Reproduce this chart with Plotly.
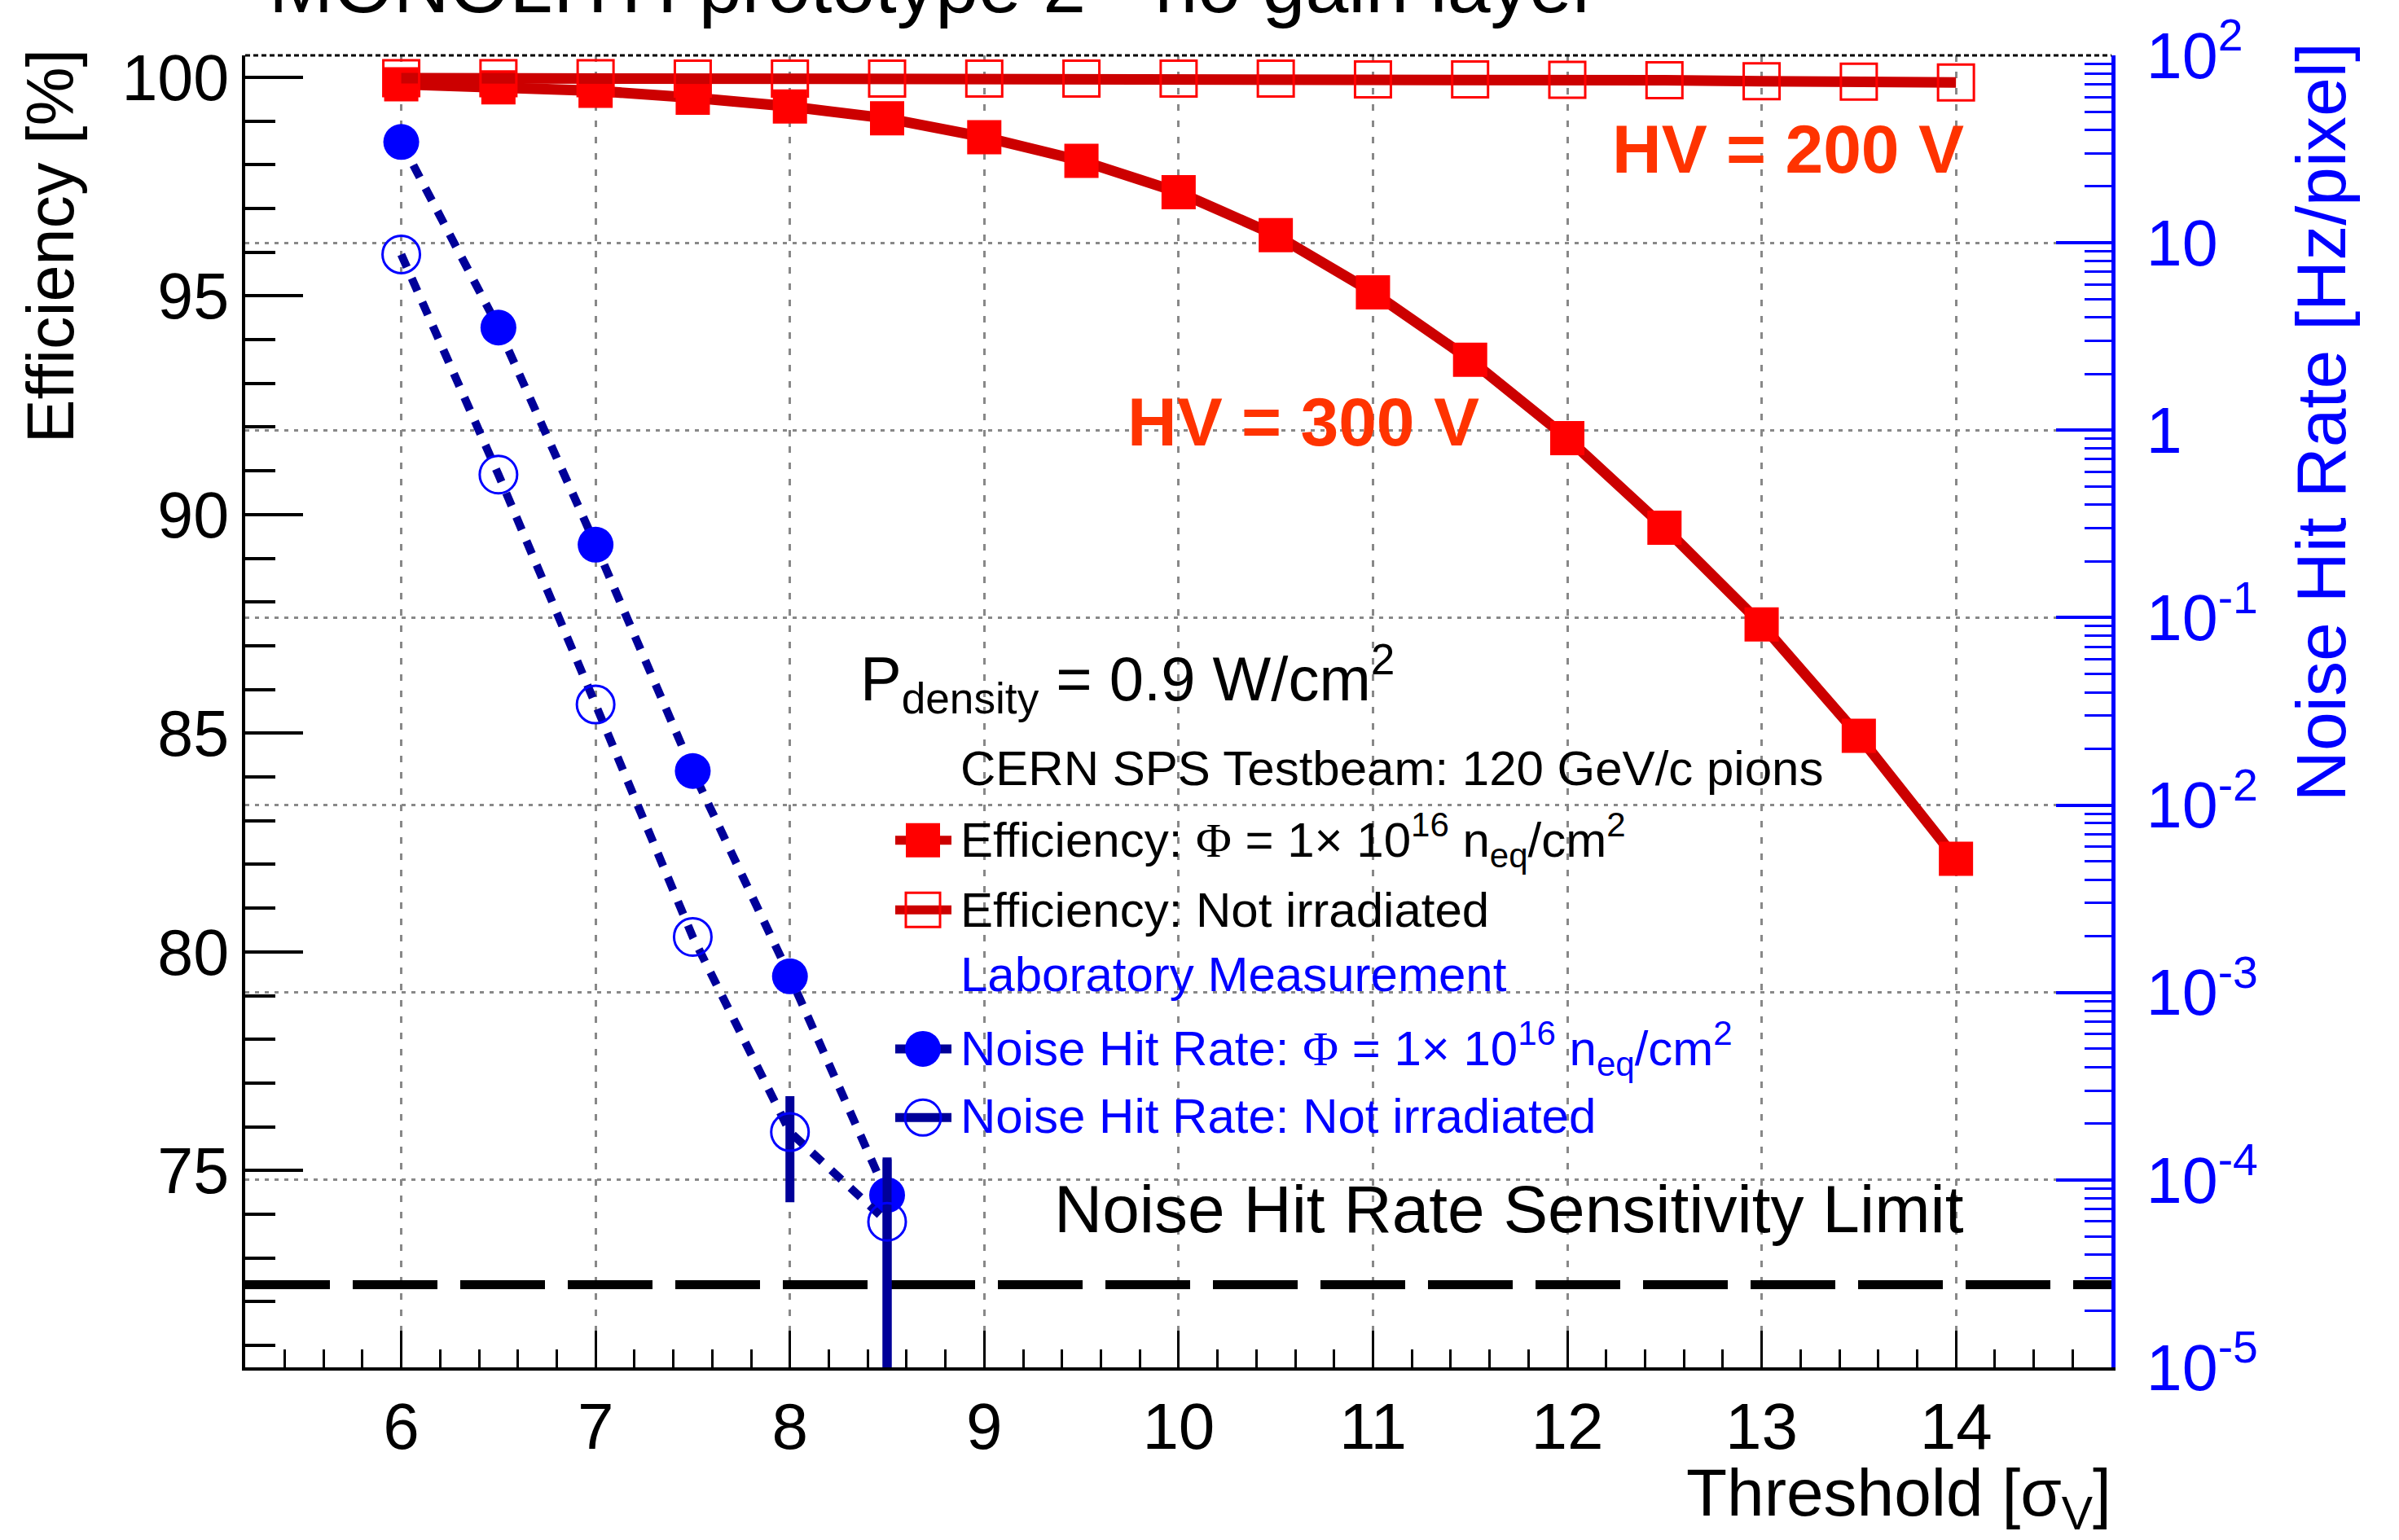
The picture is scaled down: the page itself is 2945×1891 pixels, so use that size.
import plotly.graph_objects as go

# ---------------- data ----------------
THRESH = [6.0, 6.5, 7.0, 7.5, 8.0, 8.5, 9.0, 9.5, 10.0, 10.5, 11.0, 11.5, 12.0, 12.5, 13.0, 13.5, 14.0]
EFF_IRR = [99.84, 99.77, 99.69, 99.53, 99.33, 99.06, 98.63, 98.09, 97.37, 96.39,
           95.08, 93.54, 91.75, 89.70, 87.49, 84.94, 82.13]
EFF_NON = [99.98, 99.98, 99.98, 99.97, 99.97, 99.97, 99.97, 99.97, 99.97, 99.97,
           99.95, 99.95, 99.94, 99.93, 99.91, 99.90, 99.88]

NOISE_X = [6.0, 6.5, 7.0, 7.5, 8.0, 8.5]
NOISE_IRR = [34.5, 3.53, 0.245, 0.0152, 1.22e-3, 8.3e-5]
NOISE_IRR_ERR_UP = [0, 0, 0, 0, 0, 4.6e-5]
NOISE_IRR_ERR_DN = [0, 0, 0, 0, 0, 8.3e-5]
NOISE_NON = [8.67, 0.58, 0.0344, 1.98e-3, 1.80e-4, 5.98e-5]
NOISE_NON_ERR_UP = [0, 0, 0, 0, 1.0e-4, 7.2e-5]
NOISE_NON_ERR_DN = [0, 0, 0, 0, 1.04e-4, 5.98e-5]

SENS_LIMIT = 2.76e-5

X_RANGE = [5.197, 14.80]
Y1_RANGE = [70.5, 100.5]
Y2_RANGE_LOG = [-5, 2]

X_TICKS = [6, 7, 8, 9, 10, 11, 12, 13, 14]
Y2_TICKVALS = [1e-5, 1e-4, 1e-3, 1e-2, 1e-1, 1, 10, 100]
Y2_TICKTEXT = ["10<sup>-5</sup>", "10<sup>-4</sup>", "10<sup>-3</sup>", "10<sup>-2</sup>",
               "10<sup>-1</sup>", "1", "10", "10<sup>2</sup>"]
Y2_MINOR = [m * 10.0 ** e for e in range(-5, 2) for m in range(2, 10)]

# ---------------- layout geometry (pixels) ----------------
W, H = 2945, 1891
L, R, T, B = 301, 2592, 56, 1679
FONT = "Liberation Sans"
RED_LINE = "#CC0000"
RED_MK = "#FF0000"
BLUE_LINE = "#000099"
BLUE_MK = "#0000FF"
HV_COL = "#FF3300"


def px(X):
    return (X - L) / (R - L)


def py(Y):
    return (B - Y) / (B - T)


fig = go.Figure()

fig.add_trace(go.Scatter(
    x=THRESH, y=EFF_IRR, mode="lines+markers", yaxis="y",
    line=dict(color=RED_LINE, width=13),
    marker=dict(symbol="square", size=42, color=RED_MK, line=dict(width=0)),
    showlegend=False))
fig.add_trace(go.Scatter(
    x=THRESH, y=EFF_NON, mode="lines+markers", yaxis="y",
    line=dict(color=RED_LINE, width=13),
    marker=dict(symbol="square-open", size=44, color=RED_MK, line=dict(width=3, color=RED_MK)),
    showlegend=False))

fig.add_trace(go.Scatter(
    x=X_RANGE, y=[SENS_LIMIT, SENS_LIMIT], mode="lines", yaxis="y2",
    line=dict(color="black", width=11, dash="104px,28px"), showlegend=False))

fig.add_trace(go.Scatter(
    x=NOISE_X, y=NOISE_IRR, mode="lines+markers", yaxis="y2",
    line=dict(color=BLUE_LINE, width=10, dash="17px,15px"),
    marker=dict(symbol="circle", size=44, color=BLUE_MK, line=dict(width=0)),
    error_y=dict(type="data", array=NOISE_IRR_ERR_UP, arrayminus=NOISE_IRR_ERR_DN,
                 color=BLUE_LINE, thickness=11, width=0),
    showlegend=False))
fig.add_trace(go.Scatter(
    x=NOISE_X, y=NOISE_NON, mode="lines+markers", yaxis="y2",
    line=dict(color=BLUE_LINE, width=10, dash="17px,15px"),
    marker=dict(symbol="circle-open", size=46, color=BLUE_MK, line=dict(width=3, color=BLUE_MK)),
    error_y=dict(type="data", array=NOISE_NON_ERR_UP, arrayminus=NOISE_NON_ERR_DN,
                 color=BLUE_LINE, thickness=11, width=0),
    showlegend=False))

# ---------------- annotations ----------------
ann = []


def text(x, y, s, size, color="black", xanchor="left", yanchor="middle", angle=0):
    ann.append(dict(x=px(x), y=py(y), xref="paper", yref="paper", text=s, showarrow=False,
                    xanchor=xanchor, yanchor=yanchor, textangle=angle,
                    font=dict(family=FONT, size=size, color=color)))


PHI = '<span style="font-family:Liberation Serif">Φ</span>'

text(1146, -31, "MONOLITH prototype 2 - no gain layer", 95, xanchor="center")
text(1977, 172, "<b>HV = 200 V</b>", 84, HV_COL)
text(1382, 509, "<b>HV = 300 V</b>", 84, HV_COL)
text(1054, 827, "P<sub>density</sub> = 0.9 W/cm<sup>2</sup>", 76)
text(1177, 938, "CERN SPS Testbeam: 120 GeV/c pions", 60)
text(1177, 1027, "Efficiency: " + PHI + " = 1× 10<sup>16</sup> n<sub>eq</sub>/cm<sup>2</sup>", 60)
text(1177, 1113, "Efficiency: Not irradiated", 60)
text(1177, 1193, "Laboratory Measurement", 60, BLUE_MK)
text(1177, 1285, "Noise Hit Rate: " + PHI + " = 1× 10<sup>16</sup> n<sub>eq</sub>/cm<sup>2</sup>", 60, BLUE_MK)
text(1177, 1368, "Noise Hit Rate: Not irradiated", 60, BLUE_MK)
text(2413, 1483, "Noise Hit Rate Sensitivity Limit", 82, xanchor="right")
text(2594, 1840, "Threshold [σ<sub>V</sub>]", 82, xanchor="right")
text(62, 46, "Efficiency [%]", 81, xanchor="center", yanchor="top", angle=-90)
text(2849, 38, "Noise Hit Rate [Hz/pixel]", 86, BLUE_MK, xanchor="center", yanchor="top", angle=-90)

# ---------------- shapes (frame top + legend keys) ----------------
shapes = [dict(type="line", xref="paper", yref="paper", x0=0, x1=1, y0=1, y1=1,
               line=dict(color="black", width=3, dash="6px,4px"))]

LEG_X0, LEG_X1, LEG_MX = 1099, 1168, 1133
legend_rows = [
    (1027, RED_LINE, "rect", RED_MK, True),
    (1113, RED_LINE, "rect", RED_MK, False),
    (1285, BLUE_LINE, "circle", BLUE_MK, True),
    (1370, BLUE_LINE, "circle", BLUE_MK, False),
]
for (yy, lcol, kind, mcol, filled) in legend_rows:
    shapes.append(dict(type="line", xref="paper", yref="paper", x0=px(LEG_X0), x1=px(LEG_X1),
                       y0=py(yy), y1=py(yy), line=dict(color=lcol, width=11)))
    half = 21 if kind == "rect" else 22
    shapes.append(dict(type=kind, xref="paper", yref="paper", xsizemode="pixel", ysizemode="pixel",
                       xanchor=px(LEG_MX), yanchor=py(yy), x0=-half, x1=half, y0=-half, y1=half,
                       fillcolor=mcol if filled else "rgba(0,0,0,0)",
                       line=dict(color=mcol, width=0 if filled else 3)))

fig.update_layout(
    width=W, height=H,
    margin=dict(l=L, r=W - R, t=T, b=H - B, pad=0),
    paper_bgcolor="white", plot_bgcolor="white",
    font=dict(family=FONT, color="black"),
    annotations=ann, shapes=shapes,
    xaxis=dict(range=X_RANGE, showline=True, linecolor="black", linewidth=4, mirror=False,
               tickmode="array", tickvals=X_TICKS, ticks="inside", ticklen=45, tickwidth=3,
               tickcolor="black", tickfont=dict(size=80, family=FONT, color="black"),
               minor=dict(dtick=0.2, tick0=0, ticks="inside", ticklen=22, tickwidth=3,
                          tickcolor="black", showgrid=False),
               showgrid=True, gridcolor="#888888", gridwidth=3, griddash="8px,12px",
               zeroline=False),
    yaxis=dict(range=Y1_RANGE, showline=True, linecolor="black", linewidth=4,
               tickmode="linear", tick0=0, dtick=5, ticks="inside", ticklen=71, tickwidth=4,
               tickcolor="black", tickfont=dict(size=79, family=FONT, color="black"),
               minor=dict(dtick=1, tick0=0, ticks="inside", ticklen=37, tickwidth=4,
                          tickcolor="black", showgrid=False),
               showgrid=False, zeroline=False),
    yaxis2=dict(type="log", range=Y2_RANGE_LOG, overlaying="y", side="right",
                showline=True, linecolor=BLUE_MK, linewidth=5,
                tickmode="array", tickvals=Y2_TICKVALS, ticktext=Y2_TICKTEXT,
                ticks="inside", ticklen=68, tickwidth=4, tickcolor=BLUE_MK,
                ticklabelstandoff=22, ticklabeloverflow="allow",
                tickfont=dict(size=79, family=FONT, color=BLUE_MK),
                minor=dict(tickmode="array", tickvals=Y2_MINOR, ticks="inside", ticklen=33,
                           tickwidth=3, tickcolor=BLUE_MK, showgrid=False),
                showgrid=True, gridcolor="#888888", gridwidth=3, griddash="5px,7px",
                zeroline=False),
)

fig.write_html("out.html")
